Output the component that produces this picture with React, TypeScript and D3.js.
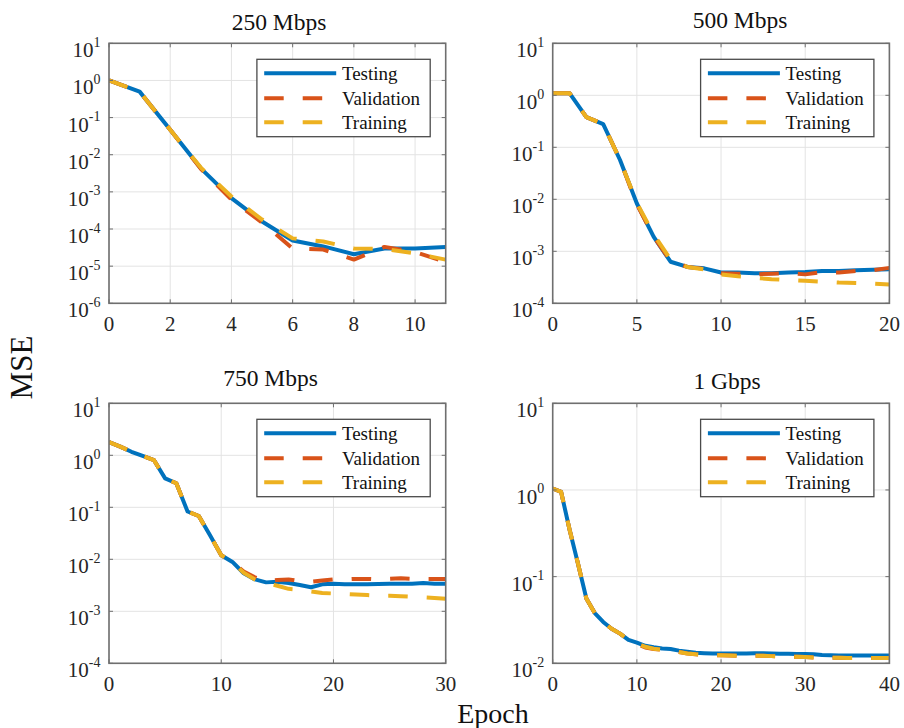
import React from 'react';
import * as d3 from 'd3';

const FONT = "'Times New Roman', 'Liberation Serif', Times, serif";
const COLOR_TEST = '#0072BD';
const COLOR_VAL = '#D95319';
const COLOR_TRAIN = '#EDB120';

// ---------- data ----------
const titles = ['250 Mbps', '500 Mbps', '750 Mbps', '1 Gbps'];
const legendLabels = ['Testing', 'Validation', 'Training'];

const xMax250 = 11;
const xTicks250 = [0, 2, 4, 6, 8, 10];
const yExps250 = [-6, -5, -4, -3, -2, -1, 0, 1];
const test250 = [1.0, 0.5, 0.047, 0.0043, 6.8e-4, 1.6e-4, 4.9e-5, 3.4e-5, 2.1e-5, 3.0e-5, 3.0e-5, 3.3e-5];
const val250 = [1.0, 0.5, 0.047, 0.0042, 6.2e-4, 1.5e-4, 3.0e-5, 2.8e-5, 1.5e-5, 3.3e-5, 2.4e-5, 1.3e-5];
const train250 = [1.0, 0.5, 0.047, 0.0045, 7.5e-4, 1.8e-4, 5.6e-5, 4.6e-5, 3.0e-5, 2.9e-5, 2.2e-5, 1.5e-5];

const xMax500 = 20;
const xTicks500 = [0, 5, 10, 15, 20];
const yExps500 = [-4, -3, -2, -1, 0, 1];
const test500 = [1.1, 1.1, 0.38, 0.28, 0.057, 0.0083, 0.0019, 6.3e-4, 5.0e-4, 4.7e-4, 3.9e-4, 3.9e-4, 3.8e-4, 3.8e-4, 3.9e-4, 4.0e-4, 4.2e-4, 4.2e-4, 4.3e-4, 4.4e-4, 4.5e-4];
const val500 = [1.1, 1.1, 0.38, 0.28, 0.057, 0.008, 0.0019, 6.5e-4, 5.0e-4, 4.6e-4, 3.8e-4, 3.7e-4, 3.6e-4, 3.7e-4, 3.8e-4, 3.6e-4, 4.0e-4, 3.9e-4, 4.2e-4, 4.3e-4, 4.8e-4];
const train500 = [1.1, 1.1, 0.38, 0.28, 0.057, 0.0085, 0.0021, 7.0e-4, 5.0e-4, 4.5e-4, 3.6e-4, 3.3e-4, 3.1e-4, 2.9e-4, 2.8e-4, 2.7e-4, 2.6e-4, 2.5e-4, 2.45e-4, 2.4e-4, 2.3e-4];

const xMax750 = 30;
const xTicks750 = [0, 10, 20, 30];
const yExps750 = [-4, -3, -2, -1, 0, 1];
const test750 = [1.8, 1.47, 1.17, 0.97, 0.81, 0.36, 0.29, 0.083, 0.068, 0.029, 0.012, 0.0089, 0.0054, 0.0041, 0.0036, 0.0037, 0.0035, 0.0032, 0.0029, 0.0033, 0.0034, 0.0033, 0.0033, 0.0033, 0.00335, 0.0034, 0.0034, 0.0034, 0.0035, 0.0034, 0.0034];
const val750 = [1.8, 1.47, 1.17, 0.97, 0.81, 0.36, 0.29, 0.083, 0.068, 0.029, 0.012, 0.0089, 0.0058, 0.0045, 0.0038, 0.004, 0.0041, 0.0038, 0.0037, 0.0039, 0.0041, 0.0041, 0.0042, 0.0042, 0.0041, 0.0042, 0.0043, 0.0042, 0.0042, 0.0042, 0.0042];
const train750 = [1.8, 1.47, 1.17, 0.97, 0.81, 0.36, 0.29, 0.083, 0.068, 0.029, 0.012, 0.0089, 0.0055, 0.0041, 0.0035, 0.0031, 0.0027, 0.0026, 0.0024, 0.00225, 0.0022, 0.00215, 0.0021, 0.00205, 0.002, 0.002, 0.00195, 0.0019, 0.00185, 0.0018, 0.00175];

const xMax1g = 40;
const xTicks1g = [0, 10, 20, 30, 40];
const yExps1g = [-2, -1, 0, 1];
const test1g = [1.04, 0.95, 0.35, 0.142, 0.056, 0.038, 0.03, 0.025, 0.022, 0.0186, 0.0173, 0.0159, 0.0153, 0.0148, 0.0146, 0.014, 0.0136, 0.0132, 0.0131, 0.013, 0.013, 0.013, 0.013, 0.013, 0.0131, 0.0131, 0.013, 0.0129, 0.0129, 0.0128, 0.0128, 0.0127, 0.0125, 0.0124, 0.0123, 0.0123, 0.0123, 0.0123, 0.0123, 0.0123, 0.0123];
const val1g = [1.04, 0.95, 0.35, 0.142, 0.056, 0.038, 0.03, 0.025, 0.022, 0.0186, 0.0168, 0.0152, 0.0146, 0.0143, 0.014, 0.0135, 0.013, 0.0127, 0.0125, 0.0124, 0.0124, 0.0123, 0.0122, 0.0122, 0.0122, 0.0122, 0.0121, 0.012, 0.0119, 0.0119, 0.0118, 0.0117, 0.0116, 0.0116, 0.0116, 0.0115, 0.0115, 0.0115, 0.0115, 0.0115, 0.0115];
const train1g = [1.04, 0.95, 0.35, 0.142, 0.056, 0.038, 0.03, 0.025, 0.022, 0.0186, 0.017, 0.0155, 0.0147, 0.0143, 0.014, 0.0135, 0.013, 0.0127, 0.0125, 0.0124, 0.0124, 0.0123, 0.0122, 0.0122, 0.0122, 0.0122, 0.0121, 0.012, 0.0119, 0.0119, 0.0118, 0.0117, 0.0116, 0.0116, 0.0116, 0.0115, 0.0115, 0.0115, 0.0115, 0.0115, 0.0115];

// ---------- layout ----------
const PW = 336.7;
const PH = 260;

const panels = [
  { id: 'p1', left: 109, top: 43.3, titleX: 279, titleY: 29.5, title: titles[0], xMax: xMax250, xTicks: xTicks250, yExps: yExps250, test: test250, val: val250, train: train250 },
  { id: 'p2', left: 552.7, top: 43.3, titleX: 740, titleY: 27.5, title: titles[1], xMax: xMax500, xTicks: xTicks500, yExps: yExps500, test: test500, val: val500, train: train500 },
  { id: 'p3', left: 109, top: 403.3, titleX: 270.5, titleY: 386, title: titles[2], xMax: xMax750, xTicks: xTicks750, yExps: yExps750, test: test750, val: val750, train: train750 },
  { id: 'p4', left: 552.7, top: 403.3, titleX: 727, titleY: 389, title: titles[3], xMax: xMax1g, xTicks: xTicks1g, yExps: yExps1g, test: test1g, val: val1g, train: train1g },
];

const FRAME = '#6f6f6f';
const GRID = '#e3e3e3';
const DASH = '19.5 19';

function Panel({ p }: { p: any }) {
  const x = d3.scaleLinear().domain([0, p.xMax]).range([p.left, p.left + PW]);
  const yLo = Math.pow(10, p.yExps[0]);
  const yHi = Math.pow(10, p.yExps[p.yExps.length - 1]);
  const y = d3.scaleLog().domain([yLo, yHi]).range([p.top + PH, p.top]);
  const line = d3.line<number>().x((_, i) => x(i)).y((d) => y(d));
  const right = p.left + PW;
  const bottom = p.top + PH;

  const lgW = 173.3;
  const lgH = 77.4;
  const lgX = right - 15.5 - lgW;
  const lgY = p.top + 16;
  const rows = [14, 39, 63];

  return (
    <g>
      <defs>
        <clipPath id={`clip-${p.id}`}>
          <rect x={p.left} y={p.top} width={PW} height={PH} />
        </clipPath>
      </defs>
      <rect x={p.left} y={p.top} width={PW} height={PH} fill="#fff" />
      {/* grid */}
      {p.xTicks.map((t: number) => (
        <line key={'gx' + t} x1={x(t)} x2={x(t)} y1={p.top} y2={bottom} stroke={GRID} strokeWidth={1} />
      ))}
      {p.yExps.map((e: number) => (
        <line key={'gy' + e} x1={p.left} x2={right} y1={y(Math.pow(10, e))} y2={y(Math.pow(10, e))} stroke={GRID} strokeWidth={1} />
      ))}
      {/* data */}
      <g clipPath={`url(#clip-${p.id})`} fill="none" strokeWidth={4}>
        <path d={line(p.test) || ''} stroke={COLOR_TEST} strokeLinejoin="round" />
        <path d={line(p.val) || ''} stroke={COLOR_VAL} strokeDasharray={DASH} strokeLinejoin="round" />
        <path d={line(p.train) || ''} stroke={COLOR_TRAIN} strokeDasharray={DASH} strokeLinejoin="round" />
      </g>
      {/* frame */}
      <rect x={p.left} y={p.top} width={PW} height={PH} fill="none" stroke={FRAME} strokeWidth={1.6} />
      {/* ticks */}
      {p.xTicks.map((t: number) => (
        <g key={'tx' + t}>
          <line x1={x(t)} x2={x(t)} y1={bottom} y2={bottom - 4} stroke={FRAME} strokeWidth={1} />
          <line x1={x(t)} x2={x(t)} y1={p.top} y2={p.top + 4} stroke={FRAME} strokeWidth={1} />
          <text x={x(t)} y={bottom + 28} textAnchor="middle" fontSize={21} fontFamily={FONT} fill="#262626">
            {t}
          </text>
        </g>
      ))}
      {p.yExps.map((e: number) => {
        const yy = y(Math.pow(10, e));
        return (
          <g key={'ty' + e}>
            <line x1={p.left} x2={p.left + 4} y1={yy} y2={yy} stroke={FRAME} strokeWidth={1} />
            <line x1={right} x2={right - 4} y1={yy} y2={yy} stroke={FRAME} strokeWidth={1} />
            <text x={p.left - 8.5} y={yy + 14} textAnchor="end" fontSize={21} fontFamily={FONT} fill="#262626">
              10
              <tspan fontSize={14} dy={-10.5}>{e}</tspan>
            </text>
          </g>
        );
      })}
      {/* title */}
      <text x={p.titleX} y={p.titleY} textAnchor="middle" fontSize={23.5} fontFamily={FONT} fill="#111">
        {p.title}
      </text>
      {/* legend */}
      <rect x={lgX} y={lgY} width={lgW} height={lgH} fill="#fff" stroke="#4a4a4a" strokeWidth={1.3} />
      {legendLabels.map((lab, i) => {
        const ry = lgY + rows[i];
        const col = i === 0 ? COLOR_TEST : i === 1 ? COLOR_VAL : COLOR_TRAIN;
        return (
          <g key={lab}>
            <line x1={lgX + 7.3} x2={lgX + 79.3} y1={ry} y2={ry} stroke={col} strokeWidth={4} strokeDasharray={i === 0 ? undefined : DASH} />
            <text x={lgX + 85} y={ry + 7} fontSize={19} fontFamily={FONT} fill="#111">
              {lab}
            </text>
          </g>
        );
      })}
    </g>
  );
}

export default function App() {
  return (
    <svg width={904} height={728} style={{ position: 'absolute', left: 0, top: 0, background: '#fff' }}>
      <rect x={0} y={0} width={904} height={728} fill="#fff" />
      {panels.map((p) => (
        <Panel key={p.id} p={p} />
      ))}
      <text transform="translate(31.7,367.5) rotate(-90)" textAnchor="middle" fontSize={31} fontFamily={FONT} fill="#111">
        MSE
      </text>
      <text x={493} y={723} textAnchor="middle" fontSize={28} fontFamily={FONT} fill="#111">
        Epoch
      </text>
    </svg>
  );
}
